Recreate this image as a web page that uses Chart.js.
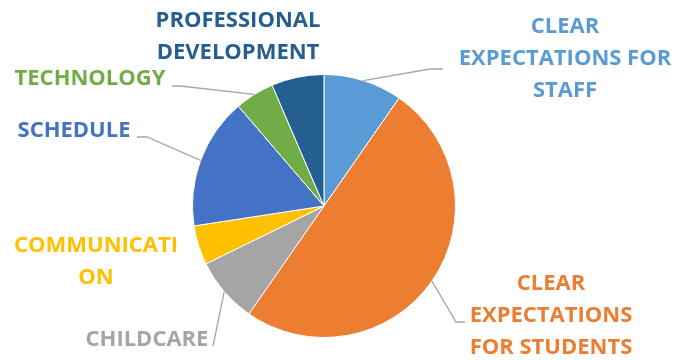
<!DOCTYPE html>
<html>
<head>
<meta charset="utf-8">
<script src="https://cdn.jsdelivr.net/npm/chart.js@4"></script>
<style>
  html, body { margin: 0; padding: 0; background: #ffffff; }
  #wrap { width: 679px; height: 360px; position: relative; }
</style>
</head>
<body>
<div id="wrap"><canvas id="c" width="679" height="360"></canvas></div>
<script>
const categories = [
  'CLEAR EXPECTATIONS FOR STAFF',
  'CLEAR EXPECTATIONS FOR STUDENTS',
  'CHILDCARE',
  'COMMUNICATION',
  'SCHEDULE',
  'TECHNOLOGY',
  'PROFESSIONAL DEVELOPMENT'
];
const values = [6, 31, 5, 3, 10, 3, 4];
const sliceColors = ['#5B9BD5', '#ED7D31', '#A5A5A5', '#FFC000', '#4472C4', '#70AD47', '#255E91'];
const labelLines = [
  ['CLEAR', 'EXPECTATIONS FOR', 'STAFF'],
  ['CLEAR', 'EXPECTATIONS', 'FOR STUDENTS'],
  ['CHILDCARE'],
  ['COMMUNICATI', 'ON'],
  ['SCHEDULE'],
  ['TECHNOLOGY'],
  ['PROFESSIONAL', 'DEVELOPMENT']
];

// label placement (layout only)
const labelLayout = [
  { x: 565, y: 25,   leader: [[430, 69], [443, 69]] },
  { x: 551, y: 282,  leader: [[456, 322], [465, 322]] },
  { x: 147, y: 338,  leader: [[213, 346]] },
  { x: 96,  y: 243.5, leader: null },
  { x: 74,  y: 129,  leader: [[147, 137], [137, 137]] },
  { x: 90,  y: 76.5, leader: [[180, 86], [172, 86]] },
  { x: 238, y: 18.5, leader: null }
];

const outerLabels = {
  id: 'outerLabels',
  afterDatasetsDraw(chart) {
    const ctx = chart.ctx;
    const meta = chart.getDatasetMeta(0);
    ctx.save();
    meta.data.forEach((arc, i) => {
      const lay = labelLayout[i];
      const p = arc.getProps(['x', 'y', 'startAngle', 'endAngle', 'outerRadius'], true);
      const mid = (p.startAngle + p.endAngle) / 2;
      if (lay.leader) {
        ctx.beginPath();
        ctx.strokeStyle = '#A6A6A6';
        ctx.lineWidth = 1.3;
        ctx.moveTo(p.x + Math.cos(mid) * p.outerRadius, p.y + Math.sin(mid) * p.outerRadius);
        lay.leader.forEach(pt => ctx.lineTo(pt[0], pt[1]));
        ctx.stroke();
      }
      ctx.fillStyle = sliceColors[i];
      ctx.font = 'bold 22px "Open Sans"';
      ctx.textAlign = 'center';
      ctx.textBaseline = 'alphabetic';
      labelLines[i].forEach((line, k) => {
        ctx.fillText(line, lay.x, lay.y + k * 32 + 8);
      });
    });
    ctx.restore();
  }
};

new Chart(document.getElementById('c'), {
  type: 'pie',
  data: {
    labels: categories,
    datasets: [{
      data: values,
      backgroundColor: sliceColors,
      borderColor: '#ffffff',
      borderWidth: 1
    }]
  },
  options: {
    responsive: false,
    animation: false,
    layout: { padding: { top: 74, bottom: 22, left: 192, right: 223 } },
    plugins: {
      legend: { display: false },
      tooltip: { enabled: false }
    }
  },
  plugins: [outerLabels]
});
</script>
</body>
</html>
